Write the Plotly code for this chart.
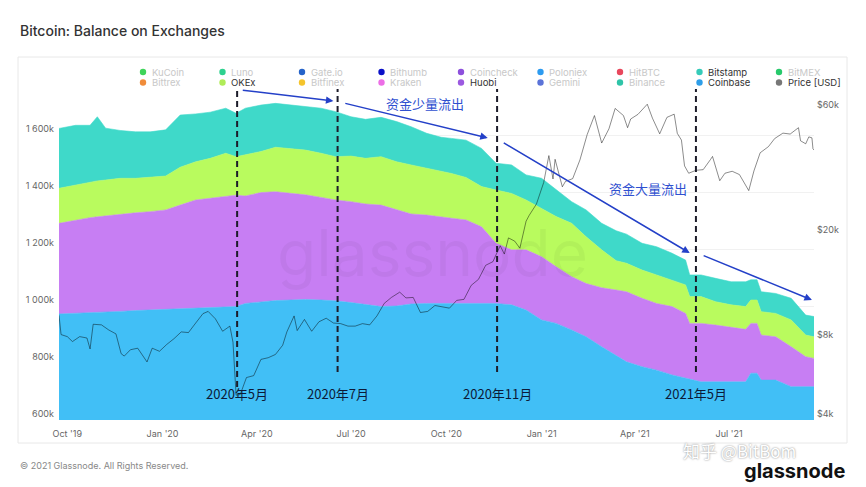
import numpy as np
import plotly.graph_objects as go

# ---------------- data (balances in thousand BTC, price in USD) ----------------
dates = [
    "2019-09-23", "2019-10-09", "2019-10-23", "2019-10-30", "2019-11-07", "2019-11-21", "2019-12-06", "2019-12-20",
    "2020-01-04", "2020-01-18", "2020-02-02", "2020-02-16", "2020-03-02", "2020-03-12", "2020-03-21", "2020-04-05",
    "2020-04-19", "2020-05-04", "2020-05-18", "2020-06-02", "2020-06-16", "2020-07-01", "2020-07-15", "2020-07-30",
    "2020-08-14", "2020-08-28", "2020-09-12", "2020-09-26", "2020-10-06", "2020-10-20", "2020-11-04", "2020-11-18",
    "2020-12-03", "2020-12-17", "2021-01-01", "2021-01-15", "2021-01-30", "2021-02-13", "2021-02-28", "2021-03-14",
    "2021-03-24", "2021-04-08", "2021-04-22", "2021-05-07", "2021-05-20", "2021-05-24", "2021-06-04", "2021-06-18",
    "2021-07-03", "2021-07-17", "2021-07-22", "2021-07-28", "2021-08-01", "2021-08-15", "2021-08-30", "2021-09-13",
    "2021-09-21",
]
coinbase = [
    972, 974, 977, 978, 979, 981, 984, 986,
    990, 992, 994, 995, 998, 998, 1009, 1015,
    1019, 1021, 1023, 1021, 1018, 1012, 1004, 998,
    1000, 1007, 1009, 1009, 1010, 1011, 1011, 1009,
    1004, 986, 951, 939, 916, 892, 857, 826,
    804, 787, 775, 758, 746, 742, 734, 734,
    734, 734, 764, 764, 740, 740, 717, 717,
    717,
]
huobi = [
    318, 328, 333, 335, 337, 342, 343, 345,
    347, 362, 378, 383, 388, 391, 377, 383,
    382, 374, 367, 360, 354, 354, 354, 356,
    337, 316, 310, 305, 298, 291, 267, 211,
    193, 211, 222, 199, 187, 187, 207, 230,
    246, 240, 234, 240, 228, 197, 205, 199,
    191, 184, 175, 175, 158, 152, 140, 105,
    99,
]
okex = [
    123, 123, 126, 126, 126, 125, 121, 120,
    119, 133, 134, 140, 150, 135, 144, 144,
    156, 158, 157, 155, 152, 160, 160, 170,
    169, 172, 164, 160, 157, 149, 141, 187,
    198, 175, 170, 176, 187, 164, 133, 103,
    100, 99, 100, 93, 100, 94, 94, 82,
    79, 80, 82, 82, 82, 82, 94, 76,
    76,
]
bitstamp = [
    210, 209, 198, 225, 182, 168, 163, 160,
    162, 183, 168, 162, 158, 152, 164, 163,
    154, 152, 155, 158, 158, 138, 137, 138,
    141, 134, 123, 118, 123, 131, 134, 94,
    100, 88, 105, 93, 76, 94, 93, 105,
    102, 94, 99, 94, 87, 76, 76, 82,
    81, 87, 71, 71, 70, 70, 76, 70,
    71,
]

price_dates = [
    "2019-09-23", "2019-09-25", "2019-10-01", "2019-10-06", "2019-10-13", "2019-10-20", "2019-10-23", "2019-10-26",
    "2019-11-03", "2019-11-10", "2019-11-17", "2019-11-22", "2019-11-25", "2019-12-01", "2019-12-08", "2019-12-17",
    "2019-12-22", "2019-12-29", "2020-01-05", "2020-01-12", "2020-01-19", "2020-01-26", "2020-02-02", "2020-02-09",
    "2020-02-14", "2020-02-21", "2020-02-28", "2020-03-06", "2020-03-09", "2020-03-12", "2020-03-16", "2020-03-22",
    "2020-03-29", "2020-04-05", "2020-04-12", "2020-04-19", "2020-04-26", "2020-04-30", "2020-05-07", "2020-05-10",
    "2020-05-17", "2020-05-24", "2020-05-31", "2020-06-07", "2020-06-14", "2020-06-21", "2020-06-28", "2020-07-05",
    "2020-07-12", "2020-07-19", "2020-07-26", "2020-08-02", "2020-08-09", "2020-08-17", "2020-08-23", "2020-08-30",
    "2020-09-06", "2020-09-13", "2020-09-20", "2020-09-27", "2020-10-04", "2020-10-11", "2020-10-18", "2020-10-25",
    "2020-11-01", "2020-11-08", "2020-11-15", "2020-11-22", "2020-11-26", "2020-11-30", "2020-12-06", "2020-12-11",
    "2020-12-17", "2020-12-20", "2020-12-27", "2021-01-03", "2021-01-08", "2021-01-12", "2021-01-14", "2021-01-21",
    "2021-01-24", "2021-01-31", "2021-02-07", "2021-02-14", "2021-02-21", "2021-02-28", "2021-03-07", "2021-03-13",
    "2021-03-21", "2021-03-25", "2021-03-28", "2021-04-04", "2021-04-13", "2021-04-18", "2021-04-25", "2021-05-02",
    "2021-05-09", "2021-05-12", "2021-05-16", "2021-05-19", "2021-05-23", "2021-05-30", "2021-06-06", "2021-06-13",
    "2021-06-15", "2021-06-22", "2021-06-27", "2021-07-04", "2021-07-11", "2021-07-20", "2021-07-25", "2021-07-31",
    "2021-08-08", "2021-08-14", "2021-08-22", "2021-08-29", "2021-09-06", "2021-09-08", "2021-09-13", "2021-09-16",
    "2021-09-19", "2021-09-20", "2021-09-21",
]
price_usd = [
    10000, 8450, 8300, 7950, 8300, 8200, 7450, 9250,
    9200, 8800, 8500, 7150, 7000, 7400, 7500, 6650,
    7500, 7300, 7750, 8150, 8650, 8600, 9350, 10150,
    10350, 9700, 8700, 9100, 7900, 4970, 5000, 5800,
    5900, 6800, 6900, 7100, 7700, 8650, 9950, 8750,
    9650, 8700, 9450, 9750, 9350, 9300, 9100, 9100,
    9300, 9200, 9950, 11100, 11700, 12250, 11650, 11700,
    10250, 10350, 10900, 10750, 10650, 11400, 11500, 13000,
    13700, 15500, 16000, 18400, 17100, 19700, 19150, 18000,
    22800, 24000, 26500, 32000, 40500, 33000, 39200, 30800,
    32300, 33100, 39000, 48700, 57500, 45200, 51200, 61200,
    57500, 51700, 55800, 58100, 63500, 56200, 49000, 56600,
    58200, 49200, 46400, 37000, 34700, 35600, 35800, 39100,
    40200, 32500, 34700, 35300, 34300, 29800, 35400, 41500,
    43800, 47000, 49300, 48900, 51700, 46100, 44900, 47700,
    47300, 43000, 42500,
]

x_tick_dates = ["2019-10-01", "2020-01-01", "2020-04-01", "2020-07-01",
                "2020-10-01", "2021-01-01", "2021-04-01", "2021-07-01"]
x_tick_text = ["Oct '19", "Jan '20", "Apr '20", "Jul '20", "Oct '20", "Jan '21", "Apr '21", "Jul '21"]
y_tick_vals = [600, 800, 1000, 1200, 1400, 1600]
y_tick_text = ["600k", "800k", "1 000k", "1 200k", "1 400k", "1 600k"]
y2_tick_vals = [4000, 8000, 20000, 60000]
y2_tick_text = ["$4k", "$8k", "$20k", "$60k"]

legend_items = [
    ("KuCoin", "#3fd45a", False), ("Luno", "#2ed18f", False), ("Gate.io", "#2563c9", False),
    ("Bithumb", "#0a10c8", False), ("Coincheck", "#8d4fdc", False), ("Poloniex", "#2d9bf0", False),
    ("HitBTC", "#e8475c", False), ("Bitstamp", "#35cbb9", True), ("BitMEX", "#27c96b", False),
    ("Bittrex", "#f08c3a", False), ("OKEx", "#b0ec58", True), ("Bitfinex", "#f5c42c", False),
    ("Kraken", "#ec6ee6", False), ("Huobi", "#9b59e0", True), ("Gemini", "#5b73d8", False),
    ("Binance", "#2fc4a8", False), ("Coinbase", "#2e9ee8", True), ("Price [USD]", "#777777", True),
]

event_dates = ["2020-03-13", "2020-06-18", "2020-11-19", "2021-05-30"]
event_labels = ["2020年5月", "2020年7月", "2020年11月", "2021年5月"]

# ---------------- layout geometry (pixels) ----------------
W, H = 866, 487
PL, PR, PT, PB = 59, 814, 95, 420


def px_x(px):
    return (px - PL) / (PR - PL)


def px_y(py):
    return (PB - py) / (PB - PT)


def left_val(py):  # pixel y -> left axis value (k BTC)
    return 600 + (PB - py) / 0.285


FONT = "Inter, Lato, 'Noto Sans', sans-serif"
CJK = "'Noto Sans CJK SC', 'Noto Sans', sans-serif"

fig = go.Figure()

series = [
    ("Coinbase", coinbase, "#41bff6"),
    ("Huobi", huobi, "#c77ef3"),
    ("OKEx", okex, "#b9fb5e"),
    ("Bitstamp", bitstamp, "#3fd9c9"),
]
for name, vals, col in series:
    fig.add_trace(go.Scatter(
        x=dates, y=vals, name=name, mode="lines", stackgroup="bal",
        line=dict(width=0.6, color=col), fillcolor=col,
        showlegend=False, hoverinfo="skip",
    ))

fig.add_trace(go.Scatter(
    x=price_dates, y=price_usd, name="Price [USD]", yaxis="y2", mode="lines",
    line=dict(color="rgba(0,0,0,0.45)", width=1), showlegend=False, hoverinfo="skip",
))

shapes = []
annotations = []

# frame
shapes.append(dict(type="rect", xref="paper", yref="paper",
                   x0=px_x(18), x1=px_x(847), y0=px_y(443), y1=px_y(57),
                   line=dict(color="#e8e8e8", width=1), layer="below"))

# dashed event lines
for i, d in enumerate(event_dates):
    y_bot = 387 if i == 0 else 372
    shapes.append(dict(type="line", xref="x", yref="paper", x0=d, x1=d,
                       y0=px_y(y_bot), y1=px_y(89),
                       line=dict(color="#1c1c2a", width=2, dash="6px,4px")))
    annotations.append(dict(xref="x", yref="paper", x=d, y=px_y(393), text=event_labels[i],
                            showarrow=False, xanchor="center", yanchor="middle",
                            font=dict(family=CJK, size=13, color="#0c1a38")))

# arrows
arrows = [
    (("2020-03-17", 90), ("2020-06-14", 101)),
    (("2020-06-24", 103), ("2020-11-10", 138)),
    (("2020-11-24", 142), ("2021-05-24", 253)),
    (("2021-06-05", 255), ("2021-09-19", 300)),
]
for (tx, ty), (hx, hy) in arrows:
    annotations.append(dict(xref="x", yref="y", x=hx, y=left_val(hy),
                            axref="x", ayref="y", ax=tx, ay=left_val(ty),
                            text="", showarrow=True, arrowhead=2, arrowsize=1,
                            arrowwidth=1.5, arrowcolor="#2440c8"))

annotations.append(dict(xref="paper", yref="paper", x=px_x(425), y=px_y(103), text="资金少量流出",
                        showarrow=False, xanchor="center", yanchor="middle",
                        font=dict(family=CJK, size=13, color="#2f50d0")))
annotations.append(dict(xref="paper", yref="paper", x=px_x(648), y=px_y(188), text="资金大量流出",
                        showarrow=False, xanchor="center", yanchor="middle",
                        font=dict(family=CJK, size=13, color="#2f50d0")))

# watermark
annotations.append(dict(xref="paper", yref="paper", x=px_x(432), y=px_y(252), text="glassnode",
                        showarrow=False, xanchor="center", yanchor="middle",
                        font=dict(family=FONT, size=64, color="rgba(0,0,0,0.04)")))

# legend (manual, 9 columns x 2 rows)
for i, (name, col, active) in enumerate(legend_items):
    r, c = divmod(i, 9)
    mx = 143 + c * 79.5
    my = 72 if r == 0 else 82.5
    shapes.append(dict(type="circle", xref="paper", yref="paper",
                       xsizemode="pixel", ysizemode="pixel",
                       xanchor=px_x(mx), yanchor=px_y(my),
                       x0=-3.2, x1=3.2, y0=-3.2, y1=3.2,
                       fillcolor=col, line=dict(width=0)))
    annotations.append(dict(xref="paper", yref="paper", x=px_x(mx + 6.5), y=px_y(my),
                            text=name, showarrow=False, xanchor="left", yanchor="middle",
                            font=dict(family=FONT, size=9.5, color="#333333" if active else "#c8c8c8")))

# title / footer / logos
annotations.append(dict(xref="paper", yref="paper", x=px_x(18), y=px_y(31),
                        text="Bitcoin: Balance on Exchanges", showarrow=False,
                        xanchor="left", yanchor="middle",
                        font=dict(family=FONT, size=14, color="#333333", weight=500)))
annotations.append(dict(xref="paper", yref="paper", x=px_x(18), y=px_y(465),
                        text="© 2021 Glassnode. All Rights Reserved.", showarrow=False,
                        xanchor="left", yanchor="middle",
                        font=dict(family=FONT, size=9, color="#888888")))
annotations.append(dict(xref="paper", yref="paper", x=px_x(681), y=px_y(450),
                        text="知乎 @BitBom", showarrow=False, xanchor="left", yanchor="middle",
                        font=dict(family=CJK, size=17, color="#ffffff", shadow="0px 0px 2px #777")))
annotations.append(dict(xref="paper", yref="paper", x=px_x(847), y=px_y(471),
                        text="<b>glassnode</b>", showarrow=False, xanchor="right", yanchor="middle",
                        font=dict(family=FONT, size=20, color="#111111")))

fig.update_layout(
    width=W, height=H, autosize=False,
    margin=dict(l=PL, r=W - PR, t=PT, b=H - PB, pad=0),
    paper_bgcolor="white", plot_bgcolor="white",
    font=dict(family=FONT, size=9, color="#666666"),
    showlegend=False,
    xaxis=dict(range=["2019-09-23", "2021-09-21"], tickvals=x_tick_dates, ticktext=x_tick_text,
               showgrid=False, zeroline=False, showline=False, ticks="",
               tickfont=dict(size=9, color="#666666"), ticklabelstandoff=7),
    yaxis=dict(range=[600, 600 + (PB - PT) / 0.285], tickvals=y_tick_vals, ticktext=y_tick_text,
               showgrid=True, gridcolor="#f1f1f1", gridwidth=1, zeroline=False, showline=False,
               ticks="", tickfont=dict(size=9, color="#666666"), ticklabelposition="outside top",
               ticklabelstandoff=4),
    yaxis2=dict(type="log", overlaying="y", side="right",
                range=[np.log10(4000), np.log10(4000) + (PB - PT) / 263],
                tickvals=y2_tick_vals, ticktext=y2_tick_text, showgrid=False, zeroline=False,
                showline=False, ticks="", tickfont=dict(size=9, color="#666666"),
                ticklabelposition="outside top", ticklabelstandoff=2),
    shapes=shapes, annotations=annotations,
)

fig.write_html("out.html", config={"displayModeBar": False},
               post_script="document.body.style.margin='0px';")
